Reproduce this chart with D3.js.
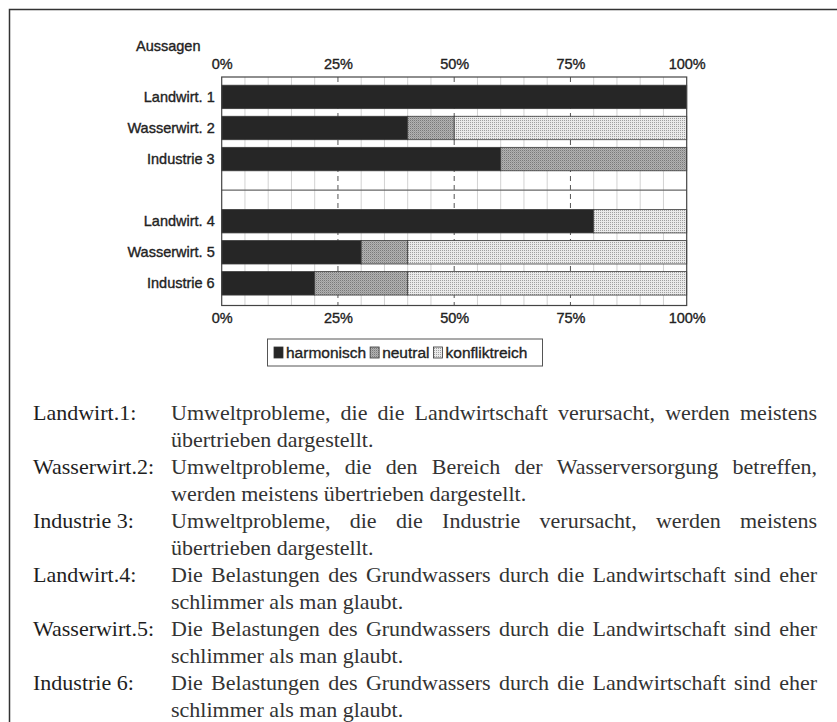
<!DOCTYPE html>
<html>
<head>
<meta charset="utf-8">
<script src="https://cdn.jsdelivr.net/npm/d3@7"></script>
<style>
  html, body { margin: 0; padding: 0; background: #fff; }
  svg { display: block; }
  .sans { font-family: 'Liberation Sans', Arial, sans-serif; fill: #222; stroke: #222; stroke-width: 0.35px; }
</style>
</head>
<body>
<svg id="chart"></svg>
<script>
// Aussagen (rows), top to bottom
const aussagen = ['Landwirt. 1', 'Wasserwirt. 2', 'Industrie 3', 'Landwirt. 4', 'Wasserwirt. 5', 'Industrie 6']
// percentage shares per row
const harmonisch = [100, 40, 60, 80, 30, 20]
const neutral = [0, 10, 40, 0, 10, 20]
const konfliktreich = [0, 50, 0, 20, 60, 60]
const kategorien = ['harmonisch', 'neutral', 'konfliktreich']
const prozentTicks = [0, 25, 50, 75, 100]

// explanation text under the chart
const kuerzel = ['Landwirt.1:', 'Wasserwirt.2:', 'Industrie 3:', 'Landwirt.4:', 'Wasserwirt.5:', 'Industrie 6:']
const zeile1 = [
    'Umweltprobleme, die die Landwirtschaft verursacht, werden meistens',
    'Umweltprobleme, die den Bereich der Wasserversorgung betreffen,',
    'Umweltprobleme, die die Industrie verursacht, werden meistens',
    'Die Belastungen des Grundwassers durch die Landwirtschaft sind eher',
    'Die Belastungen des Grundwassers durch die Landwirtschaft sind eher',
    'Die Belastungen des Grundwassers durch die Landwirtschaft sind eher',
]
const zeile2 = [
    'übertrieben dargestellt.',
    'werden meistens übertrieben dargestellt.',
    'übertrieben dargestellt.',
    'schlimmer als man glaubt.',
    'schlimmer als man glaubt.',
    'schlimmer als man glaubt.',
]

const width = 837
const height = 722

const svg = d3.select('#chart').attr('width', width).attr('height', height)

// outer frame (top and left edges of the scanned box)
svg.append('path')
    .attr('d', 'M9.5,' + height + 'V9.5H' + width)
    .attr('fill', 'none')
    .attr('stroke', '#333')
    .attr('stroke-width', 1.5)

const plot = { left: 221.7, right: 686.7, top: 77, bottom: 305.5 }

// patterns for the grey fills
const defs = svg.append('defs')
const pNeutral = defs.append('pattern')
    .attr('id', 'pNeutral')
    .attr('patternUnits', 'userSpaceOnUse')
    .attr('width', 2).attr('height', 2)
pNeutral.append('rect').attr('width', 2).attr('height', 2).attr('fill', '#b2b2b2')
pNeutral.append('rect').attr('width', 1).attr('height', 1).attr('fill', '#7a7a7a')
pNeutral.append('rect').attr('x', 1).attr('y', 1).attr('width', 1).attr('height', 1).attr('fill', '#9c9c9c')

const pKonflikt = defs.append('pattern')
    .attr('id', 'pKonflikt')
    .attr('patternUnits', 'userSpaceOnUse')
    .attr('width', 2).attr('height', 2)
pKonflikt.append('rect').attr('width', 2).attr('height', 2).attr('fill', '#eaeaea')
pKonflikt.append('rect').attr('width', 1).attr('height', 1).attr('fill', '#a0a0a0')

const fills = {
    harmonisch: '#262626',
    neutral: 'url(#pNeutral)',
    konfliktreich: 'url(#pKonflikt)',
}

// rows with an empty gap between statement 3 and 4
const gap = ' '
const yDomain = aussagen.slice(0, 3).concat([gap], aussagen.slice(3))

const xScale = d3.scaleLinear().domain([0, 100]).range([plot.left, plot.right])
const yScale = d3.scaleBand()
    .domain(yDomain)
    .range([plot.top, plot.bottom])
    .paddingInner(0.245)
    .paddingOuter(0.3)
    .align(0.44)

// minor grid every 5%
svg.append('g')
    .selectAll('line')
    .data(xScale.ticks(20).filter((t) => t % 25 !== 0))
    .enter()
    .append('line')
    .attr('x1', (d) => xScale(d))
    .attr('x2', (d) => xScale(d))
    .attr('y1', plot.top)
    .attr('y2', plot.bottom)
    .attr('stroke', '#d2d2d2')
    .attr('stroke-width', 1)

// dashed major lines
svg.append('g')
    .selectAll('line')
    .data(prozentTicks.filter((t) => t > 0 && t < 100))
    .enter()
    .append('line')
    .attr('x1', (d) => xScale(d))
    .attr('x2', (d) => xScale(d))
    .attr('y1', plot.top)
    .attr('y2', plot.bottom)
    .attr('stroke', '#555')
    .attr('stroke-width', 1)
    .attr('stroke-dasharray', '5,4')

// line through the empty gap row
svg.append('line')
    .attr('x1', plot.left)
    .attr('x2', plot.right)
    .attr('y1', yScale(gap) + yScale.bandwidth() / 2)
    .attr('y2', yScale(gap) + yScale.bandwidth() / 2)
    .attr('stroke', '#666')
    .attr('stroke-width', 1.2)

// stacked bars
const tabelle = aussagen.map((a, i) => ({
    aussage: a,
    harmonisch: harmonisch[i],
    neutral: neutral[i],
    konfliktreich: konfliktreich[i],
}))
const stacked = d3.stack().keys(kategorien)(tabelle)

svg.append('g')
    .selectAll('g')
    .data(stacked)
    .enter()
    .append('g')
    .attr('fill', (s) => fills[s.key])
    .selectAll('rect')
    .data((s) => s.filter((d) => d[1] > d[0]))
    .enter()
    .append('rect')
    .attr('x', (d) => xScale(d[0]))
    .attr('y', (d) => yScale(d.data.aussage))
    .attr('width', (d) => xScale(d[1]) - xScale(d[0]))
    .attr('height', yScale.bandwidth())
    .attr('stroke', '#3a3a3a')
    .attr('stroke-width', 0.8)

// plot frame
svg.append('rect')
    .attr('x', plot.left)
    .attr('y', plot.top)
    .attr('width', plot.right - plot.left)
    .attr('height', plot.bottom - plot.top)
    .attr('fill', 'none')
    .attr('stroke', '#444')
    .attr('stroke-width', 1.2)

svg.append('g')
    .attr('transform', 'translate(0,' + plot.top + ')')
    .call(d3.axisTop(xScale).tickValues(prozentTicks).tickFormat((d) => d + '%').tickSize(0).tickPadding(8))
    .call((g) => g.select('.domain').remove())
    .selectAll('text')
    .attr('class', 'sans')
    .style('font-size', '14.5px')

svg.append('g')
    .attr('transform', 'translate(0,' + plot.bottom + ')')
    .call(d3.axisBottom(xScale).tickValues(prozentTicks).tickFormat((d) => d + '%').tickSize(0).tickPadding(7))
    .call((g) => g.select('.domain').remove())
    .selectAll('text')
    .attr('class', 'sans')
    .style('font-size', '14.5px')

svg.append('g')
    .attr('transform', 'translate(' + plot.left + ',0)')
    .call(d3.axisLeft(yScale).tickSize(0).tickPadding(7))
    .call((g) => g.select('.domain').remove())
    .selectAll('text')
    .attr('class', 'sans')
    .style('font-size', '14.5px')

svg.append('text')
    .attr('class', 'sans')
    .attr('x', 136)
    .attr('y', 51)
    .style('font-size', '14.5px')
    .text('Aussagen')

// legend
const legend = svg.append('g')
legend.append('rect')
    .attr('x', 267.5)
    .attr('y', 339)
    .attr('width', 275)
    .attr('height', 27)
    .attr('fill', '#fff')
    .attr('stroke', '#555')
    .attr('stroke-width', 1)

let lx = 274
kategorien.forEach((k) => {
    legend.append('rect')
        .attr('x', lx)
        .attr('y', 347)
        .attr('width', 9)
        .attr('height', 11)
        .attr('fill', fills[k])
        .attr('stroke', '#333')
        .attr('stroke-width', 0.8)
    const t = legend.append('text')
        .attr('class', 'sans')
        .attr('x', lx + 12)
        .attr('y', 358)
        .style('font-size', '15.5px')
        .text(k)
    lx += 12 + t.node().getComputedTextLength() + 4
})

// explanation text block
const serif = "'Liberation Serif', 'Times New Roman', serif"
const textLeft = 171
const textRight = 817
const lineStep = 27
const firstBase = 420

function justify(g, line, y) {
    const words = line.split(' ')
    const nodes = words.map((w) =>
        g.append('text')
            .attr('y', y)
            .style('font-family', serif)
            .style('font-size', '22px')
            .attr('fill', '#333')
            .text(w)
    )
    const lengths = nodes.map((n) => n.node().getComputedTextLength())
    const space = (textRight - textLeft - d3.sum(lengths)) / (words.length - 1)
    let x = textLeft
    nodes.forEach((n, i) => {
        n.attr('x', x)
        x += lengths[i] + space
    })
}

const block = svg.append('g')
kuerzel.forEach((k, i) => {
    const y1 = firstBase + lineStep * 2 * i
    block.append('text')
        .attr('x', 33)
        .attr('y', y1)
        .style('font-family', serif)
        .style('font-size', '22px')
        .attr('fill', '#1e1e1e')
        .text(k)
    justify(block, zeile1[i], y1)
    block.append('text')
        .attr('x', textLeft)
        .attr('y', y1 + lineStep)
        .style('font-family', serif)
        .style('font-size', '22px')
        .attr('fill', '#333')
        .text(zeile2[i])
})
</script>
</body>
</html>
